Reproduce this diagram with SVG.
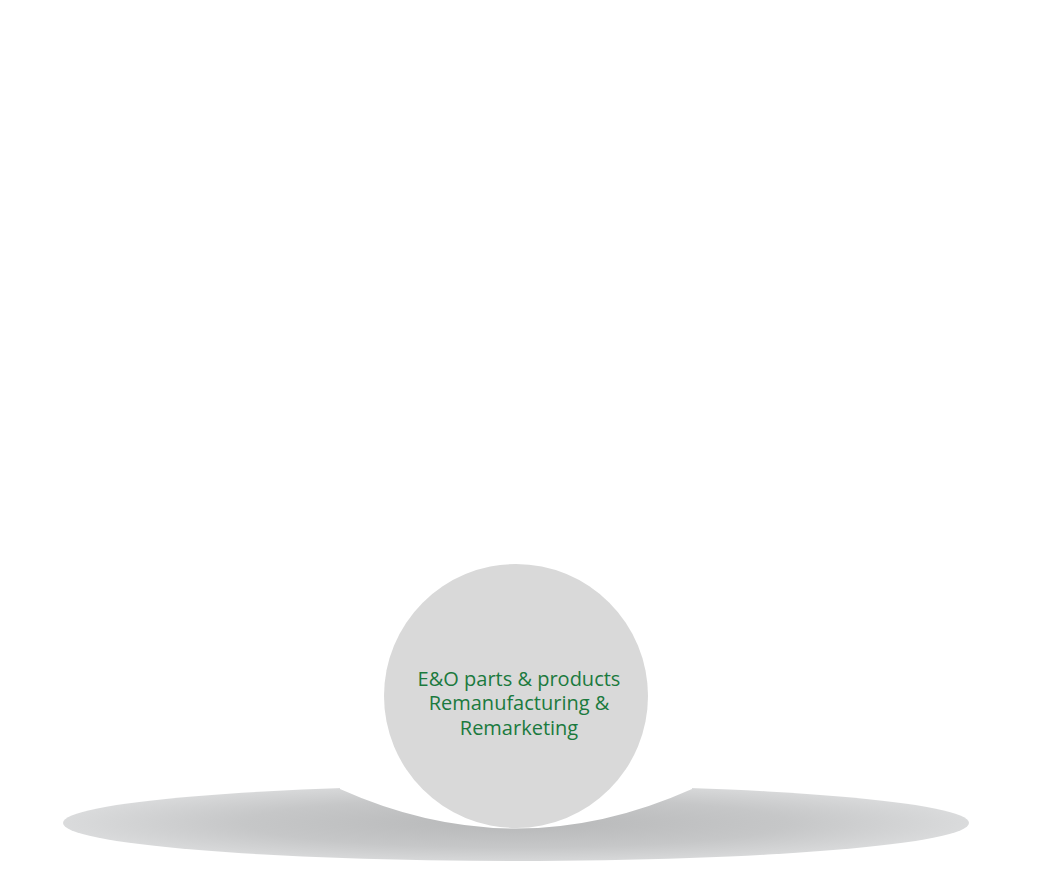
<svg xmlns="http://www.w3.org/2000/svg" width="1052" height="879" viewBox="0 0 1052 879">
  <defs>
    <radialGradient id="shadowGrad" cx="516" cy="823" r="453" gradientUnits="userSpaceOnUse" gradientTransform="translate(0 823) scale(1 0.09) translate(0 -823)">
      <stop offset="0" stop-color="#b7b8b9"/>
      <stop offset="0.6" stop-color="#c6c7c8"/>
      <stop offset="1" stop-color="#dadbdc"/>
    </radialGradient>
    <clipPath id="cut">
      <path d="M0 0 H1052 V879 H0 Z M340 770 L340 789 Q516 868 692 789 L692 770 Z" clip-rule="evenodd"/>
    </clipPath>
  </defs>
  <style>
    .label { font-family: "Open Sans", "Liberation Sans", sans-serif; font-size: 20px; fill: #1b7a3e; text-anchor: middle; }
  </style>
  <rect width="1052" height="879" fill="#ffffff"/>
  <g id="shadow">
    <ellipse cx="516" cy="823" rx="453" ry="38" fill="url(#shadowGrad)" clip-path="url(#cut)"/>
  </g>
  <g id="node-eo">
    <circle cx="516" cy="696" r="132" fill="#d9d9d9"/>
    <text class="label" x="519" y="686">E&amp;O parts &amp; products</text>
    <text class="label" x="519" y="710">Remanufacturing &amp;</text>
    <text class="label" x="519" y="735">Remarketing</text>
  </g>
  <g id="connectors"/>
</svg>
